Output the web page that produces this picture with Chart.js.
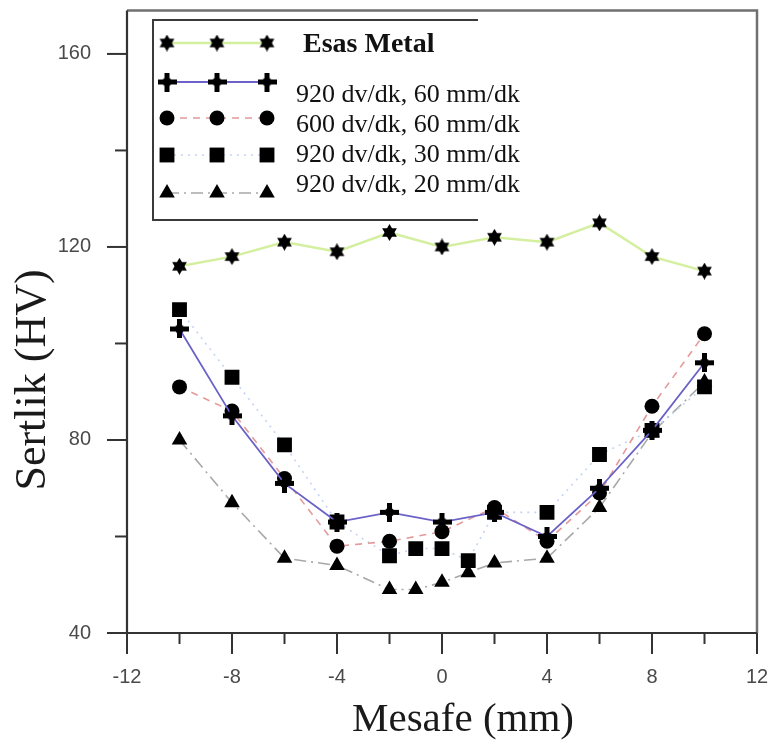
<!DOCTYPE html>
<html>
<head>
<meta charset="utf-8">
<script src="https://cdn.jsdelivr.net/npm/chart.js@4/dist/chart.umd.min.js"></script>
<style>
  html, body { margin: 0; padding: 0; background: #fff; }
  #wrap { width: 776px; height: 749px; }
</style>
</head>
<body>
<div id="wrap"><canvas id="chart" width="776" height="749"></canvas></div>
<script>
// Hardness profile across the weld
const xMain = [-10, -8, -6, -4, -2, 0, 2, 4, 6, 8, 10];
const xFine = [-10, -8, -6, -4, -2, -1, 0, 1, 2, 4, 6, 8, 10];

const esasMetal = [116, 118, 121, 119, 123, 120, 122, 121, 125, 118, 115];
const rpm920f60 = [103, 85, 71, 63, 65, 63, 65, 60, 70, 82, 96];
const rpm600f60 = [91, 86, 72, 58, 59, 61, 66, 59, 69, 87, 102];
const rpm920f30 = [107, 93, 79, 63, 56, 57.5, 57.5, 55, 65, 65, 77, 82, 91];
const rpm920f20 = [80, 67, 55.5, 54, 49, 49, 50.5, 52.5, 54.5, 55.5, 66, 81.5, 92];

const seriesLabels = ['Esas Metal', '920 dv/dk, 60 mm/dk', '600 dv/dk, 60 mm/dk', '920 dv/dk, 30 mm/dk', '920 dv/dk, 20 mm/dk'];

const xTicks = [-12, -10, -8, -6, -4, -2, 0, 2, 4, 6, 8, 10, 12];
const xTickLabels = [-12, -8, -4, 0, 4, 8, 12];
const yTicks = [40, 60, 80, 100, 120, 140, 160];
const yTickLabels = [40, 80, 120, 160];

const xTitle = 'Mesafe (mm)';
const yTitle = 'Sertlik (HV)';

function toPoints(xs, ys) {
    return xs.map((x, i) => ({ x, y: ys[i] }));
}

// six pointed filled star marker
function makeStar(size) {
    const c = document.createElement('canvas');
    c.width = size; c.height = size;
    const g = c.getContext('2d');
    const r = size / 2, cx = r, cy = r;
    g.fillStyle = '#000';
    for (const off of [-Math.PI / 2, Math.PI / 2]) {
        g.beginPath();
        for (let k = 0; k < 3; k++) {
            const a = off + k * 2 * Math.PI / 3;
            const px = cx + Math.cos(a) * r, py = cy + Math.sin(a) * r;
            k === 0 ? g.moveTo(px, py) : g.lineTo(px, py);
        }
        g.closePath();
        g.fill();
    }
    return c;
}

// thick plus marker
function makePlus(size, arm) {
    const c = document.createElement('canvas');
    c.width = size; c.height = size;
    const g = c.getContext('2d');
    g.fillStyle = '#000';
    g.fillRect((size - arm) / 2, 0, arm, size);
    g.fillRect(0, (size - arm) / 2, size, arm);
    g.beginPath();
    g.arc(size / 2, size / 2, arm * 0.95, 0, Math.PI * 2);
    g.fill();
    return c;
}

const starImg = makeStar(17);
const plusImg = makePlus(19, 5);

const datasets = [
    {
        label: seriesLabels[0],
        data: toPoints(xMain, esasMetal),
        borderColor: '#d4efa0', borderWidth: 2.5,
        pointStyle: starImg, pointRadius: 8
    },
    {
        label: seriesLabels[1],
        data: toPoints(xMain, rpm920f60),
        borderColor: '#6a62c8', borderWidth: 1.8,
        pointStyle: plusImg, pointRadius: 9
    },
    {
        label: seriesLabels[2],
        data: toPoints(xMain, rpm600f60),
        borderColor: '#e49a9a', borderWidth: 1.6, borderDash: [7, 6],
        pointStyle: 'circle', pointRadius: 7.5
    },
    {
        label: seriesLabels[3],
        data: toPoints(xFine, rpm920f30),
        borderColor: '#c4d4f2', borderWidth: 1.6, borderDash: [2, 5],
        pointStyle: 'rect', pointRadius: 10.5
    },
    {
        label: seriesLabels[4],
        data: toPoints(xFine, rpm920f20),
        borderColor: '#a8a8a8', borderWidth: 1.6, borderDash: [12, 5, 2, 5],
        pointStyle: 'triangle', pointRadius: 9
    }
].map(d => ({
    ...d,
    showLine: true,
    fill: false,
    tension: 0,
    pointBackgroundColor: '#000',
    pointBorderColor: '#000',
    pointBorderWidth: 0
}));

// frame, tick marks, titles and the legend box
const extras = {
    id: 'extras',
    afterDraw(chart) {
        const { ctx, chartArea: a, scales: { x, y } } = chart;
        ctx.save();

        // top and right frame
        ctx.strokeStyle = '#707070';
        ctx.lineWidth = 2.5;
        ctx.beginPath();
        ctx.moveTo(a.left, a.top);
        ctx.lineTo(a.right, a.top);
        ctx.lineTo(a.right, a.bottom);
        ctx.stroke();

        // left and bottom axis lines
        ctx.strokeStyle = '#333';
        ctx.lineWidth = 2.2;
        ctx.beginPath();
        ctx.moveTo(a.left, a.top);
        ctx.lineTo(a.left, a.bottom);
        ctx.lineTo(a.right, a.bottom);
        ctx.stroke();

        // tick marks
        ctx.lineWidth = 2;
        for (const v of yTicks) {
            const py = y.getPixelForValue(v);
            const len = yTickLabels.includes(v) ? 20 : 12;
            ctx.beginPath();
            ctx.moveTo(a.left - len, py);
            ctx.lineTo(a.left, py);
            ctx.stroke();
        }
        for (const v of xTicks) {
            const px = x.getPixelForValue(v);
            const len = xTickLabels.includes(v) ? 21 : 11;
            ctx.beginPath();
            ctx.moveTo(px, a.bottom);
            ctx.lineTo(px, a.bottom + len);
            ctx.stroke();
        }

        // axis titles
        ctx.fillStyle = '#1a1a1a';
        ctx.font = "41px 'Liberation Serif', 'Times New Roman', serif";
        ctx.textAlign = 'center';
        ctx.textBaseline = 'alphabetic';
        ctx.fillText(xTitle, 463, 731);
        ctx.save();
        ctx.translate(45, 380);
        ctx.rotate(-Math.PI / 2);
        ctx.font = "44px 'Liberation Serif', 'Times New Roman', serif";
        ctx.fillText(yTitle, 0, 0);
        ctx.restore();

        // legend box (open on the right like the original)
        ctx.fillStyle = '#fff';
        ctx.fillRect(153, 20, 325, 200);
        ctx.strokeStyle = '#3a3a3a';
        ctx.lineWidth = 2;
        ctx.beginPath();
        ctx.moveTo(478, 20);
        ctx.lineTo(153, 20);
        ctx.lineTo(153, 220);
        ctx.lineTo(478, 220);
        ctx.stroke();

        const rows = [
            { my: 43, ty: 45, tx: 303, font: "bold 28px 'Liberation Serif', serif" },
            { my: 82, ty: 95, tx: 296, font: "26px 'Liberation Serif', serif" },
            { my: 118, ty: 125, tx: 296, font: "26px 'Liberation Serif', serif" },
            { my: 155, ty: 155, tx: 296, font: "26px 'Liberation Serif', serif" },
            { my: 193, ty: 185, tx: 296, font: "26px 'Liberation Serif', serif" }
        ];
        const markX = [167, 217, 267];
        rows.forEach((row, i) => {
            const ds = chart.data.datasets[i];
            ctx.save();
            ctx.strokeStyle = ds.borderColor;
            ctx.lineWidth = ds.borderWidth;
            ctx.setLineDash(ds.borderDash || []);
            ctx.beginPath();
            ctx.moveTo(markX[0], row.my);
            ctx.lineTo(markX[2], row.my);
            ctx.stroke();
            ctx.restore();
            ctx.fillStyle = '#000';
            ctx.strokeStyle = '#000';
            for (const mx of markX) {
                Chart.helpers.drawPoint(ctx, {
                    pointStyle: ds.pointStyle, radius: ds.pointRadius, rotation: 0, borderWidth: 0
                }, mx, row.my);
            }
            ctx.fillStyle = '#111';
            ctx.font = row.font;
            ctx.textAlign = 'left';
            ctx.textBaseline = 'middle';
            ctx.fillText(seriesLabels[i], row.tx, row.ty);
        });

        ctx.restore();
    }
};

new Chart(document.getElementById('chart'), {
    type: 'scatter',
    data: { datasets },
    options: {
        responsive: false,
        animation: false,
        layout: { padding: { left: 0, right: 19, top: 0, bottom: 0 } },
        plugins: { legend: { display: false }, tooltip: { enabled: false } },
        scales: {
            x: {
                type: 'linear', min: -12, max: 12,
                afterBuildTicks: s => { s.ticks = xTickLabels.map(v => ({ value: v })); },
                afterFit: s => { s.height = 116; s.paddingLeft = 0; s.paddingRight = 0; },
                grid: { display: false },
                border: { display: false },
                ticks: {
                    padding: 24,
                    color: '#4a4a4a',
                    font: { family: "'Liberation Sans', Arial, sans-serif", size: 20 },
                    maxRotation: 0,
                    autoSkip: false
                }
            },
            y: {
                type: 'linear', min: 40, max: 169,
                afterBuildTicks: s => { s.ticks = yTickLabels.map(v => ({ value: v })); },
                afterFit: s => { s.width = 127; s.paddingTop = 0; s.paddingBottom = 0; },
                grid: { display: false },
                border: { display: false },
                ticks: {
                    padding: 28,
                    color: '#4a4a4a',
                    font: { family: "'Liberation Sans', Arial, sans-serif", size: 20 }
                }
            }
        }
    },
    plugins: [extras]
});
</script>
</body>
</html>
